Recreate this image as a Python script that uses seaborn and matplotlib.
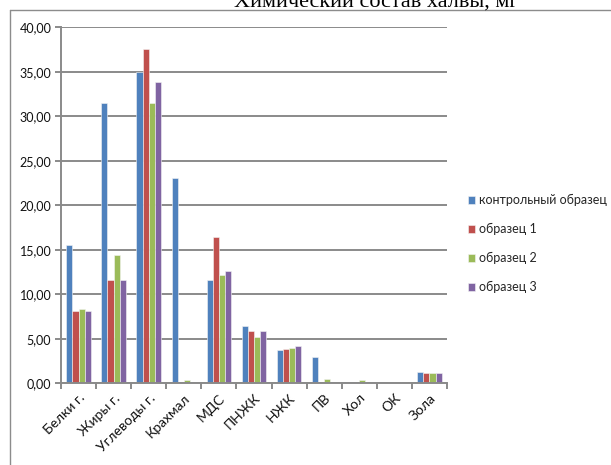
import matplotlib
matplotlib.use("Agg")
import matplotlib.pyplot as plt
from matplotlib.lines import Line2D
from matplotlib.ticker import FuncFormatter, FixedLocator, MultipleLocator
import seaborn as sns
import pandas as pd

# Composition of halva samples
categories = ["Белки г.", "Жиры г.", "Углеводы г.", "Крахмал", "МДС", "ПНЖК",
              "НЖК", "ПВ", "Хол", "ОК", "Зола"]
series_names = ["контрольный образец", "образец 1", "образец 2", "образец 3"]
control = [15.5, 31.5, 35.0, 23.1, 11.6, 6.45, 3.75, 3.0, 0.0, 0.0, 1.25]
sample1 = [8.1, 11.65, 37.6, 0.0, 16.4, 5.9, 3.9, 0.0, 0.0, 0.2, 1.2]
sample2 = [8.3, 14.45, 31.5, 0.4, 12.2, 5.25, 4.0, 0.5, 0.35, 0.2, 1.2]
sample3 = [8.1, 11.65, 33.8, 0.0, 12.6, 5.9, 4.2, 0.0, 0.0, 0.2, 1.2]
colors = ["#4F81BD", "#C0504D", "#9BBB59", "#8064A2"]
title = "Химический состав халвы, мг"

rows = []
for name, vals in zip(series_names, [control, sample1, sample2, sample3]):
    for cat, v in zip(categories, vals):
        rows.append({"cat": cat, "val": v, "series": name})
df = pd.DataFrame(rows)

sns.set_theme(style="white")
plt.rcParams["font.family"] = ["Lato", "DejaVu Sans"]

W, H = 611, 465
fig = plt.figure(figsize=(W / 100, H / 100), dpi=100)
fig.patch.set_facecolor("white")

def px(x0, y0, x1, y1):
    return [x0 / W, 1 - y1 / H, (x1 - x0) / W, (y1 - y0) / H]

ax = fig.add_axes(px(61, 27.3, 447, 383.3))

sns.barplot(data=df, x="cat", y="val", hue="series", order=categories,
            hue_order=series_names, palette=colors, width=0.7, gap=0,
            edgecolor="#f4f4f4", linewidth=0.4, saturation=1, ax=ax,
            legend=True, err_kws={"linewidth": 0})

grid_c = "#8a8a8a"
ax.set_ylim(0, 40)
ax.set_xlim(-0.5, len(categories) - 0.5)
ax.yaxis.set_major_locator(MultipleLocator(5))
ax.yaxis.set_major_formatter(FuncFormatter(lambda v, p: f"{v:.2f}".replace(".", ",")))
ax.grid(axis="y", color=grid_c, linewidth=1.4)
ax.set_axisbelow(True)

# category boundary ticks below the axis, labels at category centres
ax.xaxis.set_major_locator(FixedLocator([i - 0.5 for i in range(len(categories) + 1)]))
ax.xaxis.set_minor_locator(FixedLocator(list(range(len(categories)))))
ax.set_xticklabels([""] * (len(categories) + 1))
ax.set_xticklabels(categories, minor=True, rotation=45, ha="right",
                   rotation_mode="anchor", fontsize=10, color="#111111")
ax.tick_params(axis="x", which="major", direction="out", length=4,
               width=1.4, color=grid_c, bottom=True)
ax.tick_params(axis="x", which="minor", length=0, pad=6)
ax.tick_params(axis="y", direction="out", length=4, width=1.4, color=grid_c,
               left=True, labelsize=9, labelcolor="#111111", pad=3)

for s in ["top", "right"]:
    ax.spines[s].set_visible(False)
for s in ["left", "bottom"]:
    ax.spines[s].set_color(grid_c)
    ax.spines[s].set_linewidth(1.4)
ax.set_xlabel("")
ax.set_ylabel("")

handles, labels = ax.get_legend_handles_labels()
ax.get_legend().remove()
fig.legend(handles, labels, loc="upper left",
           bbox_to_anchor=(462 / W, 1 - 188 / H), frameon=False, fontsize=9,
           handlelength=0.55, handleheight=0.55, handletextpad=0.3,
           labelspacing=1.35, borderpad=0)

# chart frame
fig.add_artist(Line2D([10 / W, 10 / W], [0, 1 - 10 / H], color="#8c8c8c", lw=1))
fig.add_artist(Line2D([10 / W, 1], [1 - 10 / H, 1 - 10 / H], color="#8c8c8c", lw=1))

fig.text(518 / W, 1 - 7 / H, title, ha="right", va="baseline",
         family="Liberation Serif", fontsize=16, color="black")

fig.savefig("out.png", dpi=100, facecolor="white")
